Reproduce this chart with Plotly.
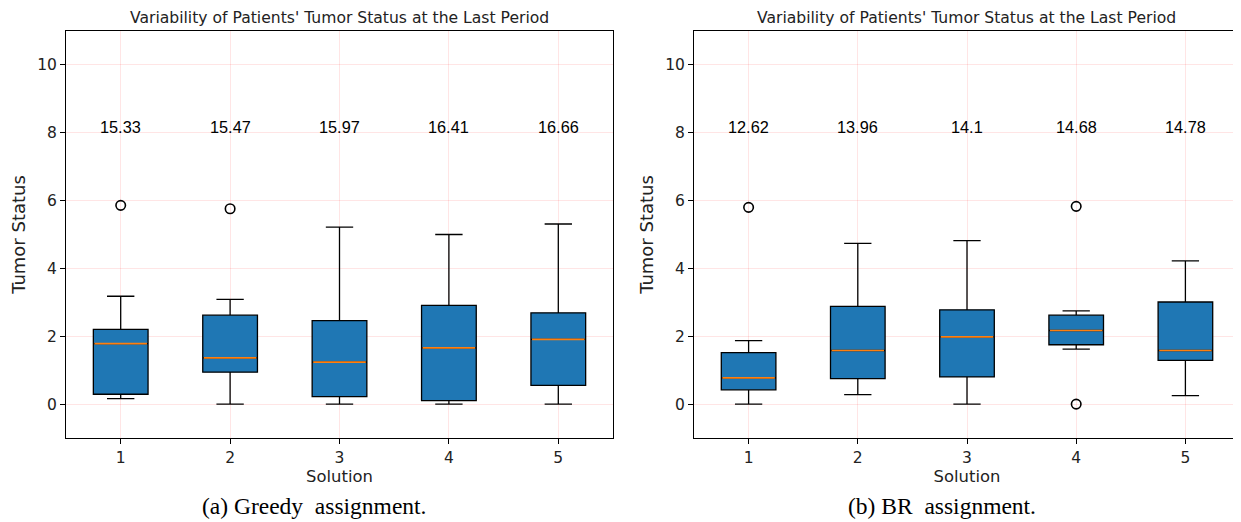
import plotly.graph_objects as go

# the page body adds an 8px margin, so the figure is sized to the visible area
OFF = 8
W, H = 1241 - OFF, 522 - OFF

solutions = [1, 2, 3, 4, 5]
tick_vals_y = [0, 2, 4, 6, 8, 10]

# Greedy assignment (panel a)
greedy_q1 = [0.29, 0.94, 0.22, 0.10, 0.55]
greedy_median = [1.78, 1.36, 1.24, 1.66, 1.91]
greedy_q3 = [2.20, 2.62, 2.46, 2.91, 2.69]
greedy_low = [0.16, 0.0, 0.0, 0.0, 0.0]
greedy_high = [3.18, 3.09, 5.22, 5.00, 5.31]
greedy_out_x = [1, 2]
greedy_out_y = [5.86, 5.76]
greedy_labels = ["15.33", "15.47", "15.97", "16.41", "16.66"]

# BR assignment (panel b)
br_q1 = [0.42, 0.75, 0.80, 1.75, 1.29]
br_median = [0.77, 1.58, 1.98, 2.17, 1.58]
br_q3 = [1.52, 2.88, 2.78, 2.62, 3.01]
br_low = [0.0, 0.28, 0.0, 1.62, 0.25]
br_high = [1.87, 4.74, 4.82, 2.75, 4.22]
br_out_x = [1, 4, 4]
br_out_y = [5.80, 5.83, 0.0]
br_labels = ["12.62", "13.96", "14.1", "14.68", "14.78"]

title_text = "Variability of Patients' Tumor Status at the Last Period"
captions = ["(a) Greedy\u00a0 assignment.", "(b) BR\u00a0 assignment."]

BLUE = "#1f77b4"
ORANGE = "#ff7f0e"
GRID = "rgba(255,0,0,0.10)"
TEXT = "#222"
TICKFONT = dict(family="DejaVu Sans", size=15.5, color=TEXT)
LABELFONT = dict(family="DejaVu Sans", size=16.4, color=TEXT)
YLABELFONT = dict(family="DejaVu Sans", size=18, color=TEXT)


def px(x):
    return (x - OFF) / W


def py(y):
    return 1 - (y - OFF) / H


fig = go.Figure()

panels = [
    ("x", "y", greedy_q1, greedy_median, greedy_q3, greedy_low, greedy_high,
     greedy_out_x, greedy_out_y, greedy_labels),
    ("x2", "y2", br_q1, br_median, br_q3, br_low, br_high,
     br_out_x, br_out_y, br_labels),
]

for xa, ya, q1, med, q3, lo, hi, ox, oy, labels in panels:
    fig.add_trace(go.Box(
        x=solutions, q1=q1, median=med, q3=q3, lowerfence=lo, upperfence=hi,
        width=0.5, whiskerwidth=0.5, fillcolor=BLUE,
        line=dict(color="black", width=1.3), boxpoints=False,
        xaxis=xa, yaxis=ya, showlegend=False, hoverinfo="skip",
    ))
    # median lines drawn as degenerate boxes in orange
    fig.add_trace(go.Box(
        x=solutions, q1=med, median=med, q3=med, lowerfence=med, upperfence=med,
        width=0.48, whiskerwidth=0, fillcolor="rgba(0,0,0,0)",
        line=dict(color=ORANGE, width=1.7), boxpoints=False,
        xaxis=xa, yaxis=ya, showlegend=False, hoverinfo="skip",
    ))
    fig.add_trace(go.Scatter(
        x=ox, y=oy, mode="markers",
        marker=dict(symbol="circle-open", size=9.5, color="black",
                    line=dict(color="black", width=1.6)),
        xaxis=xa, yaxis=ya, showlegend=False, hoverinfo="skip",
    ))
    for s, lab in zip(solutions, labels):
        fig.add_annotation(
            x=s, y=8.18, xref=xa, yref=ya, text=lab, showarrow=False,
            font=dict(family="Liberation Sans", size=16.3, color="black"),
            xanchor="center", yanchor="middle",
        )

axis_common = dict(
    showline=True, mirror=True, linecolor="black", linewidth=1,
    ticks="outside", ticklen=5, tickcolor="black", tickwidth=1,
    showgrid=True, gridcolor=GRID, gridwidth=1, zeroline=False,
    tickfont=TICKFONT, automargin=False,
)

xdomains = [[px(66), px(613)], [px(694), px(1240)]]
ydomain = [py(438), py(31)]

fig.update_layout(
    width=W, height=H,
    margin=dict(l=0, r=0, t=0, b=0, autoexpand=False),
    paper_bgcolor="white", plot_bgcolor="white",
    boxmode="overlay",
    xaxis=dict(domain=xdomains[0], range=[0.5, 5.5], tickvals=solutions,
               anchor="y", title=dict(text="Solution", standoff=2, font=LABELFONT),
               **axis_common),
    yaxis=dict(domain=ydomain, range=[-1, 11], tickvals=tick_vals_y,
               anchor="x", title=dict(text="Tumor Status", standoff=6, font=YLABELFONT),
               **axis_common),
    xaxis2=dict(domain=xdomains[1], range=[0.5, 5.5], tickvals=solutions,
                anchor="y2", title=dict(text="Solution", standoff=2, font=LABELFONT),
                **axis_common),
    yaxis2=dict(domain=ydomain, range=[-1, 11], tickvals=tick_vals_y,
                anchor="x2", title=dict(text="Tumor Status", standoff=6, font=YLABELFONT),
                **axis_common),
)

for d in xdomains:
    fig.add_annotation(
        x=(d[0] + d[1]) / 2, y=1.0, xref="paper", yref="paper",
        text=title_text, showarrow=False, xanchor="center", yanchor="top",
        borderpad=0,
        font=dict(family="DejaVu Sans", size=15.6, color=TEXT),
    )

caption_centers = [314, 942]
for cx, cap in zip(caption_centers, captions):
    fig.add_annotation(
        x=px(cx), y=py(506), xref="paper", yref="paper",
        text=cap, showarrow=False, xanchor="center", yanchor="middle",
        font=dict(family="Liberation Serif", size=23.5, color="black"),
    )

fig.write_html("out.html")
